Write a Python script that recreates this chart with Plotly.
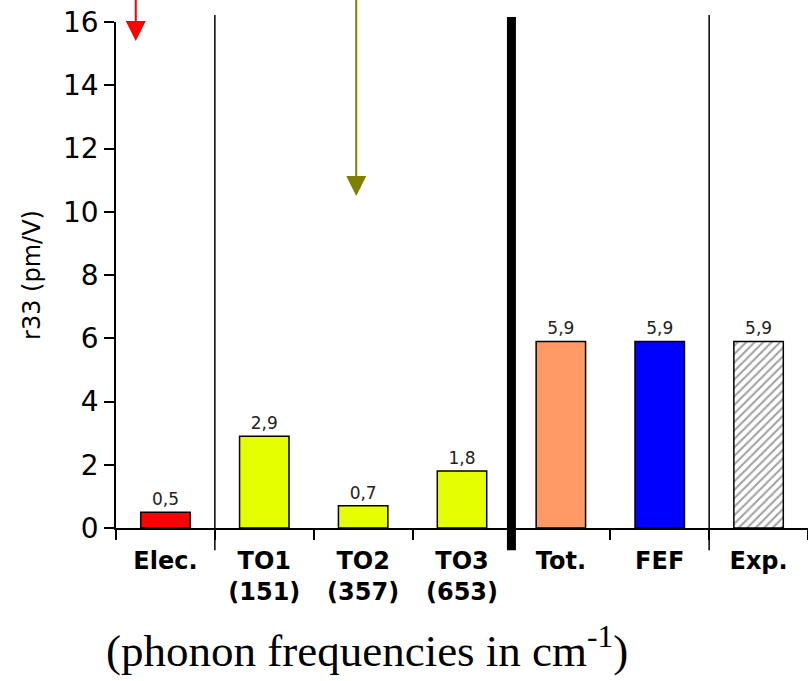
import plotly.graph_objects as go

categories = ["Elec.", "TO1", "TO2", "TO3", "Tot.", "FEF", "Exp."]
tick_labels = ["Elec.", "TO1<br>(151)", "TO2<br>(357)", "TO3<br>(653)", "Tot.", "FEF", "Exp."]
values = [0.5, 2.9, 0.7, 1.8, 5.9, 5.9, 5.9]
bar_colors = ["#ff0000", "#e5ff00", "#e5ff00", "#e5ff00", "#ff9966", "#0000ff", "#ffffff"]
bar_patterns = ["", "", "", "", "", "", "/"]

# separators between groups (category boundaries)
thin_separators = [0.5, 5.5]
thick_separators = [3.5]

# off-scale arrows: x position (category units), tip value
arrow_x = [-0.3, 1.93]
arrow_tip = [15.4, 10.5]
arrow_colors = ["#ff0000", "#808000"]

Y_MAX = 16

fig = go.Figure()
fig.add_trace(go.Bar(
    x=categories,
    y=values,
    width=0.5,
    marker=dict(
        color=bar_colors,
        line=dict(color="black", width=1.5),
        pattern=dict(shape=bar_patterns, fgcolor="black", bgcolor="white",
                     size=6, solidity=0.35, fillmode="overlay"),
    ),
    text=[f"{v:.1f}".replace(".", ",") for v in values],
    textposition="outside",
    textfont=dict(family="DejaVu Sans", size=17, color="#222222"),
    cliponaxis=False,
    showlegend=False,
))

shapes = []
for sx in thin_separators:
    shapes.append(dict(type="line", xref="x", yref="paper", x0=sx, x1=sx,
                       y0=-0.044, y1=1.014, line=dict(color="black", width=1.5)))
for sx in thick_separators:
    shapes.append(dict(type="line", xref="x", yref="paper", x0=sx, x1=sx,
                       y0=-0.044, y1=1.01, line=dict(color="black", width=9)))

annotations = []
for ax_, tip, col in zip(arrow_x, arrow_tip, arrow_colors):
    annotations.append(dict(x=ax_, y=tip, xref="x", yref="y", axref="x", ayref="y",
                            ax=ax_, ay=Y_MAX + 0.75, text="", showarrow=True,
                            arrowhead=2, arrowwidth=2, arrowsize=2.0,
                            arrowcolor=col, standoff=0))

annotations.append(dict(x=0.363, y=-0.237, xref="paper", yref="paper",
                        text="(phonon frequencies in cm<sup>-1</sup>)",
                        showarrow=False, xanchor="center", yanchor="middle",
                        font=dict(family="Liberation Serif, Times New Roman, serif",
                                  size=45, color="black")))

fig.update_layout(
    width=808, height=681,
    margin=dict(l=116, r=0, t=22, b=153),
    paper_bgcolor="white", plot_bgcolor="white",
    shapes=shapes, annotations=annotations,
    bargap=0.5,
)
fig.update_xaxes(
    type="category", categoryorder="array", categoryarray=categories,
    tickvals=categories, ticktext=tick_labels,
    range=[-0.5, 6.5], tickson="boundaries",
    ticks="outside", ticklen=10, tickwidth=1.5, tickcolor="black",
    showline=True, linecolor="black", linewidth=1.5,
    showgrid=False, zeroline=False,
    tickfont=dict(family="DejaVu Sans", size=24, color="black", weight="bold"),
    ticklabelstandoff=10,
    automargin=False,
)
fig.update_yaxes(
    range=[0, Y_MAX], dtick=2,
    ticks="outside", ticklen=10, tickwidth=1.5, tickcolor="black",
    showline=True, linecolor="black", linewidth=1.5,
    showgrid=False, zeroline=False,
    tickfont=dict(family="DejaVu Sans", size=28, color="black"),
    title=dict(text="r33 (pm/V)", standoff=16,
               font=dict(family="DejaVu Sans", size=24, color="black")),
    automargin=False,
)

fig.write_html("out.html")
